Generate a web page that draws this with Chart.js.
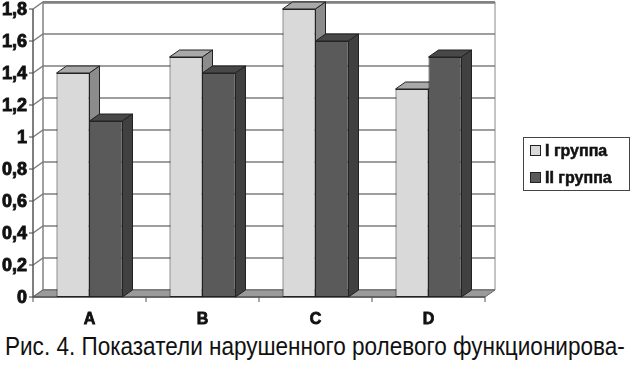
<!DOCTYPE html>
<html>
<head>
<meta charset="utf-8">
<script src="https://cdn.jsdelivr.net/npm/chart.js@4.4.0/dist/chart.umd.min.js"></script>
<style>
  body { margin: 0; background: #fff; }
  .wrap { position: relative; width: 631px; height: 370px; overflow: hidden; }
  .chart-box { position: absolute; left: 0; top: 0; width: 631px; height: 330px; }
  .legend {
    position: absolute; left: 523px; top: 137px; width: 105px; height: 52px;
    border: 1px solid #444; font: bold 16px Arial, "Liberation Sans", sans-serif; color: #111;
    -webkit-text-stroke: 0.5px #111;
  }
  .legend .item { position: absolute; left: 6px; white-space: nowrap; }
  .legend .sw { display: inline-block; width: 9px; height: 9px; border: 1px solid #222; margin-right: 4px; -webkit-text-stroke: 0; }
  .caption {
    position: absolute; left: 5px; top: 332px; white-space: nowrap; transform-origin: 0 0;
    font: 25px Arial, "Liberation Sans", sans-serif; color: #111;
  }
</style>
</head>
<body>
<div class="wrap">
  <div class="chart-box"><canvas id="chart" width="631" height="330"></canvas></div>
  <div class="legend" id="legend"></div>
  <div class="caption" id="caption">Рис. 4. Показатели нарушенного ролевого функционирова-</div>
</div>
<script>
const categories = ['A', 'B', 'C', 'D'];
const group1 = [1.4, 1.5, 1.8, 1.3];
const group2 = [1.1, 1.4, 1.6, 1.5];
const seriesNames = ['I группа', 'II группа'];
const yTicks = [0, 0.2, 0.4, 0.6, 0.8, 1, 1.2, 1.4, 1.6, 1.8];
const yTickLabels = ['0', '0,2', '0,4', '0,6', '0,8', '1', '1,2', '1,4', '1,6', '1,8'];

const DX = 10, DY = 7; // depth of the fake 3d
const faces = [
  { front: '#d9d9d9', top: '#a9a9a9', side: '#8c8c8c' },
  { front: '#5a5a5a', top: '#484848', side: '#404040' }
];

function poly(ctx, pts, fill, stroke) {
  ctx.beginPath();
  ctx.moveTo(pts[0][0], pts[0][1]);
  for (let i = 1; i < pts.length; i++) ctx.lineTo(pts[i][0], pts[i][1]);
  ctx.closePath();
  if (fill) { ctx.fillStyle = fill; ctx.fill(); }
  if (stroke) { ctx.strokeStyle = stroke; ctx.stroke(); }
}

// heavy text: fill plus a thin stroke, the scan is quite bold
function boldText(ctx, s, px, py) {
  ctx.fillText(s, px, py);
  ctx.strokeText(s, px, py);
}

const walls3d = {
  id: 'walls3d',
  beforeDatasetsDraw(chart) {
    const ctx = chart.ctx;
    const x = chart.scales.x, y = chart.scales.y;
    const L = x.left, R = x.right, T = y.top, B = y.bottom;
    ctx.save();
    ctx.lineWidth = 1;
    // back wall
    poly(ctx, [[L + DX, T - DY], [R + DX, T - DY], [R + DX, B - DY], [L + DX, B - DY]], '#fff', '#888');
    // gridlines: diagonal across the left wall, flat on the back wall
    ctx.strokeStyle = '#7f7f7f';
    ctx.lineWidth = 1.5;
    yTicks.forEach(v => {
      const fy = y.getPixelForValue(v);
      ctx.beginPath();
      ctx.moveTo(L - 4, fy);
      ctx.lineTo(L, fy);
      ctx.lineTo(L + DX, fy - DY);
      ctx.lineTo(R + DX, fy - DY);
      ctx.stroke();
    });
    ctx.lineWidth = 2.5;
    ctx.beginPath();
    ctx.moveTo(L + DX, T - DY + 0.5);
    ctx.lineTo(R + DX, T - DY + 0.5);
    ctx.stroke();
    ctx.lineWidth = 1;
    ctx.beginPath();
    ctx.moveTo(L + DX, T - DY);
    ctx.lineTo(L + DX, B - DY);
    ctx.stroke();
    // floor
    poly(ctx, [[L, B], [R, B], [R + DX, B - DY], [L + DX, B - DY]], '#9a9a9a', '#666');
    // value axis + category axis
    ctx.strokeStyle = '#555';
    ctx.lineWidth = 1.5;
    ctx.beginPath();
    ctx.moveTo(L, T);
    ctx.lineTo(L, B);
    ctx.lineTo(R, B);
    ctx.stroke();
    ctx.lineWidth = 1;
    for (let i = 0; i <= categories.length; i++) {
      const px = L + (R - L) * i / categories.length;
      ctx.beginPath();
      ctx.moveTo(px, B);
      ctx.lineTo(px, B + 5);
      ctx.stroke();
    }
    // bar tops and sides, drawn behind the fronts
    for (let i = 0; i < categories.length; i++) {
      chart.data.datasets.forEach((ds, d) => {
        const bar = chart.getDatasetMeta(d).data[i];
        const p = bar.getProps(['x', 'y', 'base', 'width'], true);
        const x0 = p.x - p.width / 2, x1 = p.x + p.width / 2;
        poly(ctx, [[x0, p.y], [x1, p.y], [x1 + DX, p.y - DY], [x0 + DX, p.y - DY]], faces[d].top, '#222');
        poly(ctx, [[x1, p.y], [x1 + DX, p.y - DY], [x1 + DX, p.base - DY], [x1, p.base]], faces[d].side, '#222');
      });
    }
    ctx.restore();
  },
  afterDraw(chart) {
    const ctx = chart.ctx;
    const x = chart.scales.x, y = chart.scales.y;
    ctx.save();
    ctx.fillStyle = '#111';
    ctx.strokeStyle = '#111';
    ctx.lineWidth = 0.9;
    ctx.font = 'bold 18px Arial, "Liberation Sans", sans-serif';
    ctx.textAlign = 'right';
    ctx.textBaseline = 'middle';
    yTicks.forEach((v, k) => boldText(ctx, yTickLabels[k], x.left - 6, y.getPixelForValue(v) + 1));
    ctx.font = 'bold 16px Arial, "Liberation Sans", sans-serif';
    ctx.lineWidth = 0.8;
    ctx.textAlign = 'center';
    categories.forEach((c, i) => boldText(ctx, c, x.getPixelForValue(i), y.bottom + 23));
    ctx.restore();
  }
};

const chart = new Chart(document.getElementById('chart'), {
  type: 'bar',
  data: {
    labels: categories,
    datasets: [
      { label: seriesNames[0], data: group1, backgroundColor: faces[0].front },
      { label: seriesNames[1], data: group2, backgroundColor: faces[1].front }
    ]
  },
  options: {
    responsive: false,
    animation: false,
    layout: { padding: { left: 33, right: 146, top: 9, bottom: 33 } },
    datasets: {
      bar: {
        categoryPercentage: 0.584,
        barPercentage: 1.0,
        borderColor: '#222',
        borderWidth: 1,
        borderSkipped: false
      }
    },
    plugins: { legend: { display: false }, tooltip: { enabled: false } },
    scales: {
      x: { display: false },
      y: { display: false, min: 0, max: 1.8 }
    }
  },
  plugins: [walls3d]
});

// legend built from the chart's datasets
const legendEl = document.getElementById('legend');
chart.data.datasets.forEach((ds, d) => {
  const item = document.createElement('div');
  item.className = 'item';
  item.style.top = (d === 0 ? 6 : 33) + 'px';
  item.style.lineHeight = '14px';
  item.innerHTML = '<span class="sw" style="background:' + ds.backgroundColor + '"></span>' + ds.label;
  legendEl.appendChild(item);
});

// the caption in the scan is a narrow face; squeeze it to the same width
const cap = document.getElementById('caption');
cap.style.transform = 'scaleX(' + (620 / cap.scrollWidth) + ')';
</script>
</body>
</html>
